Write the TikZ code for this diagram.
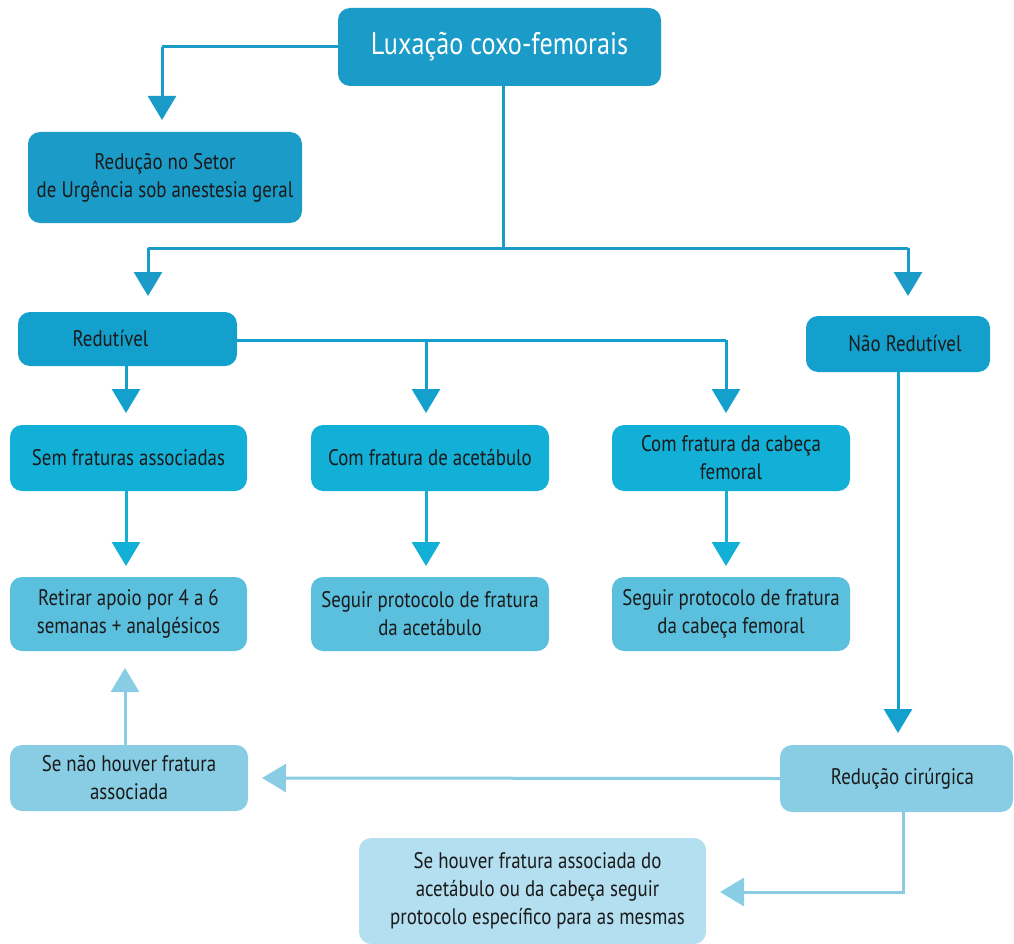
\documentclass[tikz,border=0pt]{standalone}
\usepackage{fontspec}
\setmainfont{PT Sans}[FakeStretch=0.84]
\usetikzlibrary{arrows.meta}
\definecolor{cTop}{HTML}{1A9BC8}
\definecolor{cMid}{HTML}{14A0CC}
\definecolor{cCyan}{HTML}{12AFD6}
\definecolor{cStep}{HTML}{5BBFDE}
\definecolor{cLight}{HTML}{88CDE4}
\definecolor{cPale}{HTML}{B3DFF0}
\definecolor{cText}{HTML}{1A1A1A}
\tikzset{
  box/.style={rounded corners=12pt, inner sep=0pt, align=center, text=cText,
    font=\fontsize{22.5}{28}\selectfont},
  link/.style={line width=3pt, -{Triangle[width=28pt,length=24pt]}},
  plain/.style={line width=3pt},
}
\begin{document}
\begin{tikzpicture}[x=1pt,y=-1pt]
\useasboundingbox (0,0) rectangle (1014,944);

% boxes
\node[box, fill=cTop, text=white, minimum width=323pt, minimum height=78pt,
  font=\fontsize{31.2}{36}\selectfont] (top) at (499.5,47) {Luxação coxo-femorais};
\node[box, fill=cTop, minimum width=274pt, minimum height=91pt] (setor) at (165,177.5)
  {Redução no Setor\\de Urgência sob anestesia geral};
\node[box, fill=cMid, minimum width=219pt, minimum height=54pt] (red) at (127.5,339)
  {\hspace*{-34pt}Redutível};
\node[box, fill=cMid, minimum width=184pt, minimum height=56pt] (nred) at (898,344)
  {\hspace*{14pt}Não Redutível};
\node[box, fill=cCyan, minimum width=237pt, minimum height=66pt] (sem) at (128.5,458)
  {Sem fraturas associadas};
\node[box, fill=cCyan, minimum width=238pt, minimum height=66pt] (ace) at (430,458)
  {Com fratura de acetábulo};
\node[box, fill=cCyan, minimum width=238pt, minimum height=66pt] (cab) at (731,458)
  {Com fratura da cabeça\\femoral};
\node[box, fill=cStep, minimum width=237pt, minimum height=74pt] (ret) at (128.5,614)
  {Retirar apoio por 4 a 6\\semanas + analgésicos};
\node[box, fill=cStep, minimum width=238pt, minimum height=74pt] (pace) at (430,614)
  {Seguir protocolo de fratura\\da acetábulo};
\node[box, fill=cStep, minimum width=238pt, minimum height=74pt] (pcab) at (731,614)
  {Seguir protocolo de fratura\\da cabeça femoral};
\node[box, fill=cLight, minimum width=238pt, minimum height=66pt] (senao) at (129,778)
  {Se não houver fratura\\associada};
\node[box, fill=cLight, minimum width=233pt, minimum height=67pt] (cir) at (896.5,778.5)
  {\hspace*{12pt}Redução cirúrgica};
\node[box, fill=cPale, minimum width=347pt, minimum height=106pt] (sehouver) at (532.5,891)
  {\hspace*{10pt}Se houver fratura associada do\\\hspace*{10pt}acetábulo ou da cabeça seguir\\\hspace*{10pt}protocolo específico para as mesmas};

% junction points
\coordinate (j1) at (162,47);
\coordinate (a1) at (162,120);
\coordinate (j2) at (503,248);
\coordinate (jl) at (148,248);
\coordinate (jr) at (908,248);
\coordinate (al) at (148,296);
\coordinate (ar) at (908,296);
\coordinate (k0) at (237,340);
\coordinate (k1) at (426,340);
\coordinate (k2) at (726,340);

% connectors from the top box
\draw[plain, cTop] (top.west) -- (j1);
\draw[link, cTop] (j1) -- (a1);
\draw[plain, cTop] (top.south -| j2) -- (j2);
\draw[plain, cTop] (jl) -- (jr);
\draw[link, cTop] (jl) -- (al);
\draw[link, cTop] (jr) -- (ar);

% branches of the reducible case
\draw[plain, cMid] (k0) -- (k2);
\draw[link, cMid] (red.south -| 126,0) -- (126,413);
\draw[link, cMid] (k1) -- (426,413);
\draw[link, cMid] (k2) -- (726,413);

% down to the protocols
\draw[link, cCyan] (sem.south -| 126,0) -- (126,566);
\draw[link, cCyan] (ace.south -| 426,0) -- (426,566);
\draw[link, cCyan] (cab.south -| 726,0) -- (726,566);

% non-reducible path
\draw[link, cMid] (nred.south -| 898,0) -- (898,733);
\draw[link, cLight] (cir.west) -- (262,778);
\draw[link, cLight] (senao.north -| 125,0) -- (125,668);
\coordinate (c1) at (903,892);
\draw[link, cLight] (cir.south -| c1) -- (c1) -- (720,892);
\end{tikzpicture}
\end{document}
